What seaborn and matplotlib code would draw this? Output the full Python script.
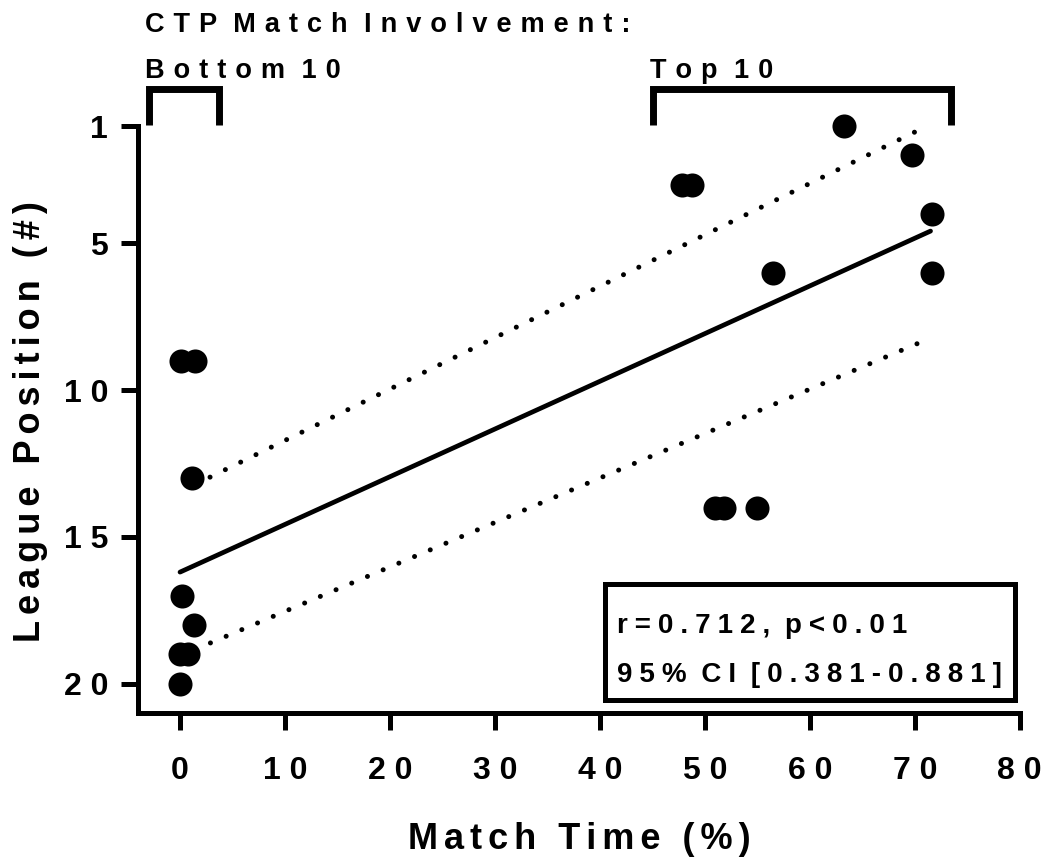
import matplotlib
matplotlib.use("Agg")
import matplotlib.pyplot as plt
import matplotlib.patches as mpatches
import seaborn as sns
import pandas as pd

# match time (%) vs league position
match_time = [63.3, 69.7, 47.8, 48.8, 71.6, 56.5, 71.6,
              0.1, 1.4, 1.1, 51.0, 51.8, 55.0,
              0.2, 1.3, 0.0, 0.8, 0.0]
league_pos = [1, 2, 3, 3, 4, 6, 6,
              9, 9, 13, 14, 14, 14,
              17, 18, 19, 19, 20]

# fitted line and 95% band, end points
fit_x = [0.0, 71.5]
fit_y = [16.2, 4.58]
upper_x = [1.4, 71.0]
upper_y = [13.22, 1.03]
lower_x = [1.4, 71.0]
lower_y = [18.84, 8.3]

x_ticks = [0, 10, 20, 30, 40, 50, 60, 70, 80]
y_ticks = [1, 5, 10, 15, 20]

stats_lines = ["r=0.712, p<0.01", "95% CI [0.381-0.881]"]

THREE = "\u2004"  # three-per-em space
FOUR = "\u2005"   # four-per-em space
SIX = "\u2006"    # six-per-em space


def spaced(s, gap=" ", word="full"):
    # GraphPad-style letter spacing
    if word == "full":
        return gap.join(s)
    if word == "tight":
        return (gap + " ").join(gap.join(w) for w in s.split(" "))
    return gap.join(s).replace(gap + " " + gap, " " + gap)


df = pd.DataFrame({"time": match_time, "pos": league_pos})

sns.set_style("ticks")
plt.rcParams["font.family"] = ["Liberation Sans", "DejaVu Sans"]
plt.rcParams["font.weight"] = "bold"
plt.rcParams["text.color"] = "black"
plt.rcParams["axes.labelcolor"] = "black"

fig = plt.figure(figsize=(10.41, 8.59), dpi=100)
ax = fig.add_axes([0.1326, 0.170, 0.847, 0.6833])

lw = 3.6
sns.scatterplot(data=df, x="time", y="pos", ax=ax, s=300, color="black",
                edgecolor="black", linewidth=0, zorder=3, clip_on=False)
sns.lineplot(x=fit_x, y=fit_y, ax=ax, color="black", lw=3.4)
for xs, ys in [(upper_x, upper_y), (lower_x, lower_y)]:
    ax.plot(xs, ys, color="black", lw=3.6, linestyle=(0, (0.01, 3.4)),
            dash_capstyle="round", zorder=2)

ax.set_xlim(-4, 80)
ax.set_ylim(21, 1)
ax.set_xticks(x_ticks)
ax.set_yticks(y_ticks)
ax.set_xticklabels([spaced(str(t)) for t in x_ticks])
ax.set_yticklabels([spaced(str(t)) for t in y_ticks])
ax.tick_params(width=lw, length=12.5, labelsize=23, color="black",
               labelcolor="black")
ax.tick_params(axis="x", pad=18.5)
ax.tick_params(axis="y", pad=9)
for lab in ax.get_xticklabels() + ax.get_yticklabels():
    lab.set_fontweight("bold")

sns.despine(ax=ax)
for side in ["left", "bottom"]:
    ax.spines[side].set_linewidth(lw)
    ax.spines[side].set_color("black")
    ax.spines[side].set_capstyle("projecting")

ax.set_xlabel(spaced("Match Time (%)", SIX), fontsize=26, fontweight="bold",
              va="top")
ax.xaxis.set_label_coords(0.5, -0.1857)
ax.set_ylabel(spaced("League Position (#)", SIX), fontsize=26,
              fontweight="bold", va="bottom")
ax.yaxis.set_label_coords(-0.102, 0.497)

# group brackets and titles above the axes
bracket_top = -0.26
for x0, x1 in [(-2.95, 3.71), (45.05, 73.43)]:
    ax.plot([x0, x0, x1, x1], [0.95, bracket_top, bracket_top, 0.95],
            color="black", lw=5.0, clip_on=False, solid_joinstyle="miter",
            solid_capstyle="butt")
ax.text(-3.3, -2.2, spaced("CTP Match Involvement:", THREE, "double"),
        fontsize=19.5, fontweight="bold", va="baseline", ha="left")
ax.text(-3.3, -0.64, spaced("Bottom 10", THREE, "double"), fontsize=19.5,
        fontweight="bold", va="baseline", ha="left")
ax.text(44.76, -0.64, spaced("Top 10", THREE, "double"), fontsize=19.5,
        fontweight="bold", va="baseline", ha="left")

# stats box
box = mpatches.Rectangle((40.5, 16.59), 79.57 - 40.5, 20.57 - 16.59,
                         fill=False, edgecolor="black", lw=lw, clip_on=False,
                         zorder=4)
ax.add_patch(box)
ax.text(41.65, 18.27, spaced(stats_lines[0], FOUR, "tight"), fontsize=20,
        fontweight="bold", va="baseline", ha="left")
ax.text(41.65, 19.94, spaced(stats_lines[1], FOUR, "tight"), fontsize=20,
        fontweight="bold", va="baseline", ha="left")

fig.savefig("out.png", dpi=100)
